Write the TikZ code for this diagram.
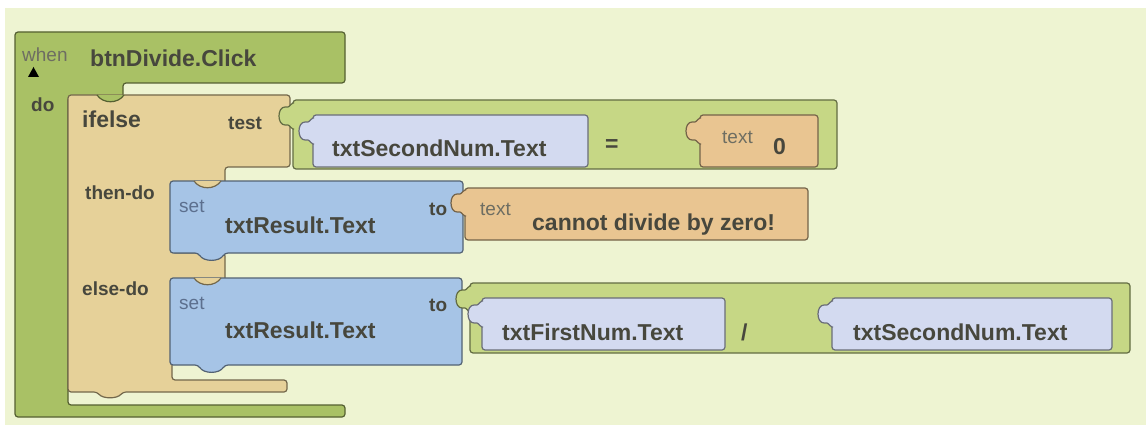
\documentclass[tikz,border=0pt]{standalone}
\usepackage{fontspec}
\setmainfont{Liberation Sans}
\definecolor{bgcream}{HTML}{EEF4D2}
\definecolor{whengreen}{HTML}{A9C165}
\definecolor{opgreen}{HTML}{C6D785}
\definecolor{iftan}{HTML}{E6D199}
\definecolor{setblue}{HTML}{A6C4E6}
\definecolor{getlav}{HTML}{D3DAF0}
\definecolor{txtorange}{HTML}{E9C591}
\definecolor{inktxt}{HTML}{47473D}
\definecolor{softtxt}{HTML}{6E6E62}
\definecolor{settxt}{HTML}{5C6F8E}
\tikzset{
  block/.style={fill=#1, draw=#1!50!black, line width=1.2pt, rounded corners=3pt},
  bigtext/.style={font=\fontsize{23}{27}\selectfont\bfseries, text=inktxt, inner sep=0pt, anchor=base west},
  midtext/.style={font=\fontsize{19}{22}\selectfont\bfseries, text=inktxt, inner sep=0pt, anchor=base west},
  smalltext/.style={font=\fontsize{19}{22}\selectfont, text=#1, inner sep=0pt, anchor=base west}
}
% knob of a value block: right side x, top y, colour
\newcommand{\knob}[3]{%
  \draw[fill=#3, draw=#3!50!black, line width=1.2pt] (#1+1,#2) -- (#1,#2)
    .. controls (#1-4,#2+2) and (#1-3,#2+5) .. (#1-8,#2+4)
    .. controls (#1-16,#2+4) and (#1-16,#2+22) .. (#1-8,#2+22)
    .. controls (#1-3,#2+21) and (#1-4,#2+24) .. (#1,#2+26) -- (#1+1,#2+26);}
% tab hanging below y, from x to x+27
\newcommand{\dip}[3]{%
  \draw[fill=#3, draw=#3!50!black, line width=1.2pt] (#1,#2)
    .. controls (#1+6,#2+9) and (#1+21,#2+9) .. (#1+27,#2);}
\begin{document}
\begin{tikzpicture}[x=1pt,y=-1pt]
	\useasboundingbox (0,0) rectangle (1146,425);
	\fill[white] (0,0) rectangle (1146,425);
	\fill[bgcream] (5,8) rectangle (1146,425);

	\draw[block=whengreen] (15,32) -- (345,32) -- (345,83) -- (123,83) -- (123,97) -- (68,97) -- (68,405) -- (345,405) -- (345,417) -- (15,417) -- cycle;
	\draw[block=iftan] (68,95) -- (290,95) -- (290,167) -- (225,167) -- (225,185) -- (172,185) -- (172,253) -- (225,253) -- (225,282) -- (172,282) -- (172,380) -- (287,380) -- (287,392) -- (123,392) .. controls (117,399) and (103,399) .. (97,392) -- (68,392) -- cycle;
	\dip{97}{95}{whengreen}

	\draw[block=opgreen] (293,100) -- (837,100) -- (837,169) -- (293,169) -- cycle;
	\knob{293}{103}{opgreen}
	\draw[block=getlav] (313,115) -- (588,115) -- (588,167) -- (313,167) -- cycle;
	\knob{313}{118}{getlav}
	\draw[block=txtorange] (700,115) -- (818,115) -- (818,167) -- (700,167) -- cycle;
	\knob{700}{118}{txtorange}

	\draw[block=setblue] (170,181) -- (463,181) -- (463,253) -- (225,253) .. controls (219,262) and (204,262) .. (198,253) -- (170,253) -- cycle;
	\dip{194}{181}{iftan}
	\draw[block=txtorange] (465,188) -- (808,188) -- (808,240) -- (465,240) -- cycle;
	\knob{465}{190}{txtorange}

	\draw[block=setblue] (170,278) -- (462,278) -- (462,365) -- (225,365) .. controls (219,374) and (204,374) .. (198,365) -- (170,365) -- cycle;
	\dip{194}{278}{iftan}
	\draw[block=opgreen] (470,283) -- (1130,283) -- (1130,353) -- (470,353) -- cycle;
	\knob{470}{286}{opgreen}
	\draw[block=getlav] (482,298) -- (725,298) -- (725,350) -- (482,350) -- cycle;
	\knob{482}{301}{getlav}
	\draw[block=getlav] (832,298) -- (1112,298) -- (1112,350) -- (832,350) -- cycle;
	\knob{832}{301}{getlav}

	\node[smalltext=softtxt] (when) at (22,62) {when};
	\fill[black] (28,77) -- (39,77) -- (33.5,67) -- cycle;
	\node[bigtext] (btnclick) at (90,67) {btnDivide.Click};
	\node[midtext] (do) at (31,112) {do};
	\node[bigtext] (ifelse) at (82,128) {ifelse};
	\node[midtext] (test) at (228,130) {test};
	\node[bigtext] (second1) at (332,157) {txtSecondNum.Text};
	\node[bigtext] (eq) at (605,152) {=};
	\node[smalltext=softtxt] (text0) at (722,143) {text};
	\node[bigtext] (zero) at (773,155) {0};

	\node[midtext] (thendo) at (85,200) {then-do};
	\node[smalltext=settxt] (set1) at (179,212) {set};
	\node[bigtext] (result1) at (225,233) {txtResult.Text};
	\node[midtext] (to1) at (429,215) {to};
	\node[smalltext=softtxt] (text1) at (480,215) {text};
	\node[bigtext] (msg) at (532,230) {cannot divide by zero!};

	\node[midtext] (elsedo) at (82,295) {else-do};
	\node[smalltext=settxt] (set2) at (179,309) {set};
	\node[bigtext] (result2) at (225,338) {txtResult.Text};
	\node[midtext] (to2) at (429,311) {to};
	\node[bigtext] (first2) at (502,340) {txtFirstNum.Text};
	\node[bigtext] (slash) at (741,340) {/};
	\node[bigtext] (second2) at (853,340) {txtSecondNum.Text};
\end{tikzpicture}
\end{document}
